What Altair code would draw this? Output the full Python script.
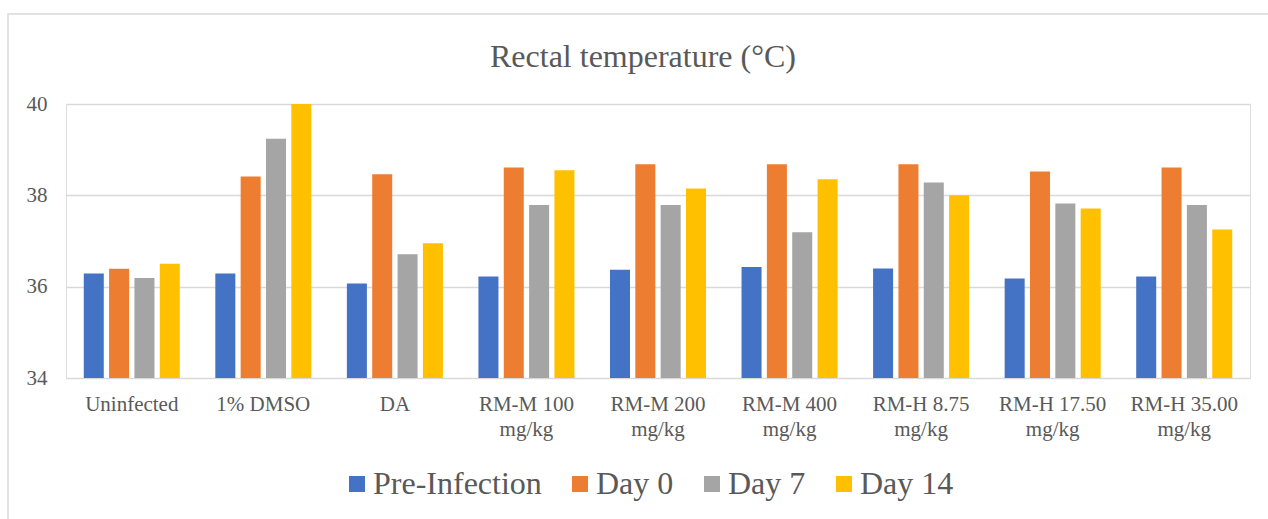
import altair as alt
import pandas as pd

groups = ["Uninfected", "1% DMSO", "DA", "RM-M 100 mg/kg", "RM-M 200 mg/kg",
          "RM-M 400 mg/kg", "RM-H 8.75 mg/kg", "RM-H 17.50 mg/kg", "RM-H 35.00 mg/kg"]
series = ["Pre-Infection", "Day 0", "Day 7", "Day 14"]
pre_infection = [36.29, 36.29, 36.07, 36.22, 36.37, 36.43, 36.40, 36.18, 36.22]
day0 = [36.39, 38.41, 38.46, 38.61, 38.68, 38.68, 38.68, 38.52, 38.61]
day7 = [36.19, 39.24, 36.71, 37.79, 37.79, 37.19, 38.28, 37.82, 37.79]
day14 = [36.50, 40.00, 36.95, 38.55, 38.15, 38.35, 38.00, 37.71, 37.25]
colors = ["#4472C4", "#ED7D31", "#A5A5A5", "#FFC000"]
title_text = "Rectal temperature (°C)"

rows = []
for s, vals in zip(series, [pre_infection, day0, day7, day14]):
    for g, v in zip(groups, vals):
        rows.append({"group": g, "series": s, "value": v})
df = pd.DataFrame(rows)

FONT = "Liberation Serif"
TXT = "#595959"

bars = alt.Chart(df).mark_bar(clip=True).encode(
    x=alt.X("group:N", sort=groups, title=None,
            scale=alt.Scale(paddingInner=0.27, paddingOuter=0.135),
            axis=alt.Axis(labelAngle=0, ticks=False, domain=False, grid=False,
                          labelFont=FONT, labelFontSize=21, labelColor=TXT,
                          labelPadding=15, labelLineHeight=25, labelBaseline="top",
                          labelExpr="indexof(datum.value, ' mg/kg') > 0 ? [replace(datum.value, ' mg/kg', ''), 'mg/kg'] : datum.value")),
    xOffset=alt.XOffset("series:N", sort=series, scale=alt.Scale(paddingInner=0.21)),
    y=alt.Y("value:Q", title=None,
            scale=alt.Scale(domain=[34, 40], nice=False, zero=False),
            axis=alt.Axis(values=[34, 36, 38, 40], ticks=False, domain=False,
                          gridColor="#D9D9D9", gridWidth=1.5,
                          labelFont=FONT, labelFontSize=21, labelColor=TXT,
                          labelPadding=19)),
    color=alt.Color("series:N", sort=series,
                    scale=alt.Scale(domain=series, range=colors),
                    legend=alt.Legend(title=None, orient="none", direction="horizontal",
                                      legendX=275, legendY=364,
                                      symbolType="square", symbolSize=256,
                                      symbolStrokeWidth=0, labelLimit=0,
                                      labelFont=FONT, labelFontSize=32, labelColor=TXT,
                                      labelOffset=0, columnPadding=22, symbolOpacity=1)),
)

border = alt.Chart(pd.DataFrame({"a": [0]})).mark_rect(
    fill=None, stroke="#D9D9D9", strokeWidth=1.5, clip=False
).encode(x=alt.value(-58), x2=alt.value(1400), y=alt.value(-90), y2=alt.value(600))

title = alt.Chart(pd.DataFrame({"t": [title_text]})).mark_text(
    font=FONT, fontSize=32, color=TXT, align="center", baseline="middle"
).encode(text="t:N", x=alt.value(577), y=alt.value(-47))

chart = alt.layer(border, bars, title).properties(
    width=1184, height=274,
    autosize=alt.AutoSizeParams(type="none"),
    padding={"left": 66, "top": 104, "right": 18, "bottom": 141},
).configure_view(stroke=None).configure(background="white")

chart.save("out.html", embed_options={"renderer": "svg", "actions": False})
